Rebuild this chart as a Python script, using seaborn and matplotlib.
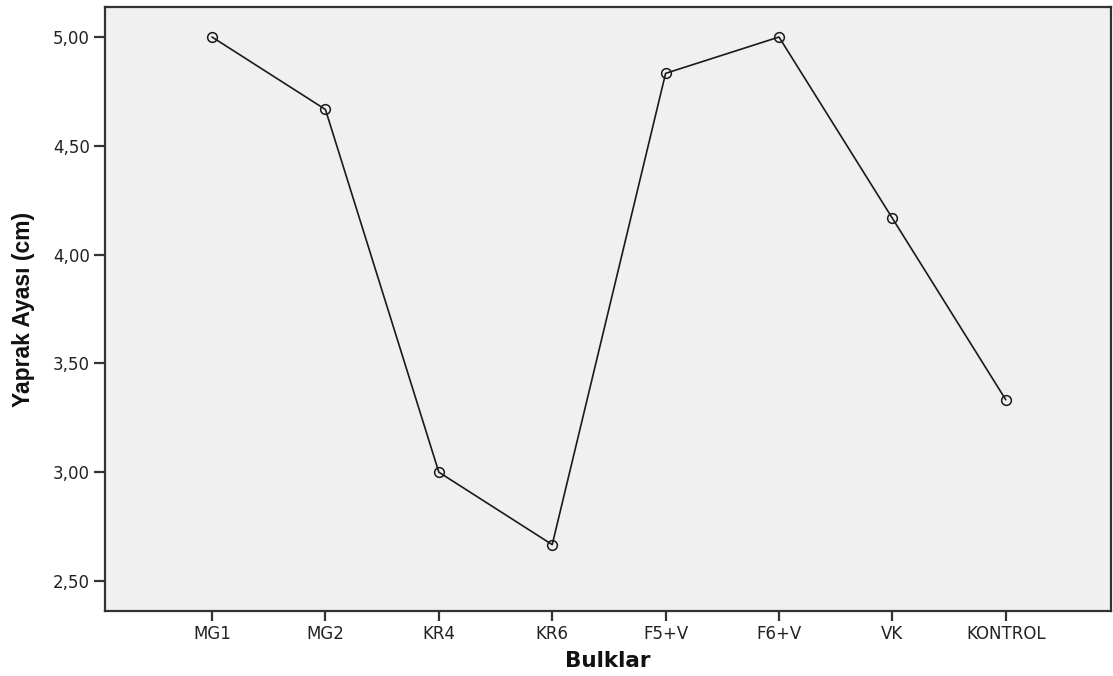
import matplotlib
matplotlib.use("Agg")
import matplotlib.pyplot as plt
import matplotlib.ticker as mticker
import seaborn as sns
import pandas as pd

categories = ["MG1", "MG2", "KR4", "KR6", "F5+V", "F6+V", "VK", "KONTROL"]
values = [5.00, 4.667, 3.00, 2.667, 4.833, 5.00, 4.167, 3.333]
y_ticks = [2.50, 3.00, 3.50, 4.00, 4.50, 5.00]

df = pd.DataFrame({"Bulklar": categories, "Yaprak": values})

sns.set_style("ticks")
plt.rcParams["font.family"] = ["DejaVu Sans"]

W, H = 1113, 676
fig = plt.figure(figsize=(W / 100, H / 100), dpi=100)
ax = fig.add_axes([105 / W, (H - 611) / H, (1111 - 105) / W, (611 - 7) / H])
ax.set_facecolor("#F0F0F0")

sns.lineplot(data=df, x="Bulklar", y="Yaprak", ax=ax, sort=False,
             color="#1a1a1a", linewidth=1.2, marker="o", markersize=7,
             markerfacecolor="none", markeredgecolor="#1a1a1a",
             markeredgewidth=1.1)

ax.set_xlim(-0.944, 7.928)
ax.set_ylim(2.362, 5.138)
ax.set_yticks(y_ticks)
ax.yaxis.set_major_formatter(mticker.FuncFormatter(lambda v, p: f"{v:.2f}".replace(".", ",")))

for s in ax.spines.values():
    s.set_color("#333333")
    s.set_linewidth(1.6)

ax.tick_params(axis="y", length=8, width=1.6, color="#333333", pad=3,
               labelsize=12, labelcolor="#222222")
ax.tick_params(axis="x", length=7, width=1.6, color="#333333", pad=3,
               labelsize=12, labelcolor="#222222")

ax.set_xlabel("Bulklar", fontsize=15.5, fontweight="bold", color="#111111")
ax.xaxis.set_label_coords(0.5, -(655 - 611 - 4) / 604, transform=ax.transAxes)
ax.xaxis.label.set_va("top")
ax.set_ylabel("Yaprak Ayası (cm)", fontsize=16.5, fontweight="bold",
              family=["Liberation Sans", "DejaVu Sans"], color="#111111")
ax.yaxis.set_label_coords((35 - 105) / 1006, 0.5)

fig.savefig("out.png", dpi=100)
